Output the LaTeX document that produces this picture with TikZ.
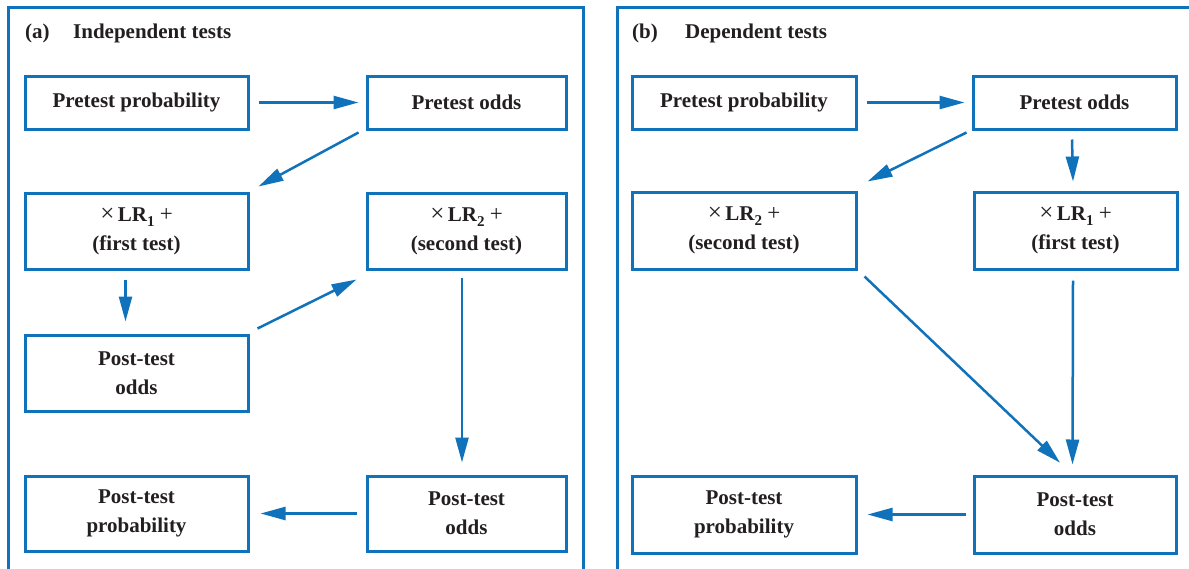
\documentclass[tikz,border=0pt]{standalone}
\usepackage{fontspec}
\setmainfont{Liberation Serif}
\usetikzlibrary{arrows.meta}
\definecolor{fblue}{RGB}{16,114,186}
\definecolor{ftext}{RGB}{35,31,32}
\tikzset{
  box/.style={draw=fblue, line width=3pt, text=ftext, align=center,
    font=\fontsize{21}{29}\selectfont\bfseries, inner sep=0pt},
  frame/.style={draw=fblue, line width=3pt},
  arr/.style={draw=fblue, line width=2.5pt, -{Triangle[length=25pt,width=13pt]}},
  ttl/.style={text=ftext, font=\fontsize{21}{25}\selectfont\bfseries, anchor=base west, inner sep=0pt},
}
\newcommand{\lrtext}[2]{{\fontsize{25}{29}\selectfont\mdseries ×}\,LR\raisebox{-5pt}{\fontsize{15}{15}\selectfont #1} {\fontsize{23}{29}\selectfont\mdseries +}\\(#2)}
\begin{document}
\begin{tikzpicture}[x=1pt,y=-1pt]
\clip (0,0) rectangle (1189,568);
\fill[white] (0,0) rectangle (1189,568);
% panel frames
\draw[frame] (8,620) -- (8,7) -- (583,7) -- (583,620);
\draw[frame] (617,620) -- (617,7) -- (1250,7);
% titles
\node[ttl] (ta) at (25,38) {(a)};
\node[ttl] (tah) at (73,38) {Independent tests};
\node[ttl] (tb) at (632,38) {(b)};
\node[ttl] (tbh) at (685,38) {Dependent tests};
% panel (a)
\node[box, minimum width=223pt, minimum height=53pt] (pp) at (136.5,102.5) {Pretest probability};
\node[box, minimum width=199pt, minimum height=53pt] (po) at (466.5,102.5) {Pretest odds};
\node[box, minimum width=223pt, minimum height=76pt] (lr1) at (136.5,231) {\lrtext{1}{first test}};
\node[box, minimum width=199pt, minimum height=76pt] (lr2) at (466.5,231) {\lrtext{2}{second test}};
\node[box, minimum width=223pt, minimum height=76pt] (pto) at (136.5,373) {Post-test\\odds};
\node[box, minimum width=223pt, minimum height=75pt] (ptp) at (136.5,513.5) {Post-test\\probability};
\node[box, minimum width=199pt, minimum height=75pt] (pto2) at (466.5,513.5) {Post-test\\odds};
\draw[arr, shorten <=9pt, shorten >=7pt] (pp.east) -- (po.west);
\draw[arr] ([shift={(-7pt,-2pt)}]po.south west) -- ([shift={(9pt,5pt)}]lr1.north east);
\draw[arr] ([shift={(-11pt,-9pt)}]lr1.south) -- ([shift={(-11pt,12pt)}]pto.north);
\draw[arr] ([shift={(8pt,5pt)}]pto.north east) -- ([shift={(-9pt,-9pt)}]lr2.south west);
\draw[arr] ([shift={(-4.5pt,-7pt)}]lr2.south) -- ([shift={(-4.5pt,12pt)}]pto2.north);
\draw[arr, shorten <=9pt, shorten >=11pt] (pto2.west) -- (ptp.east);
% panel (b)
\node[box, minimum width=224pt, minimum height=53pt] (bpp) at (744,102.5) {Pretest probability};
\node[box, minimum width=203pt, minimum height=53pt] (bpo) at (1074.5,102.5) {Pretest odds};
\node[box, minimum width=224pt, minimum height=77pt] (blr2) at (744,230.5) {\lrtext{2}{second test}};
\node[box, minimum width=203pt, minimum height=77pt] (blr1) at (1075.5,230.5) {\lrtext{1}{first test}};
\node[box, minimum width=224pt, minimum height=77pt] (bptp) at (744,514.5) {Post-test\\probability};
\node[box, minimum width=202pt, minimum height=77pt] (bpto) at (1075,514.5) {Post-test\\odds};
\draw[arr, shorten <=9pt, shorten >=7pt] (bpp.east) -- (bpo.west);
\draw[arr] ([shift={(-5pt,-2pt)}]bpo.south west) -- ([shift={(10pt,9pt)}]blr2.north east);
\draw[arr] ([shift={(-2.5pt,-9pt)}]bpo.south) -- ([shift={(-2.5pt,9pt)}]blr1.north);
\draw[arr, shorten >=4pt] ([shift={(7pt,-6pt)}]blr2.south east) -- ([shift={(-12pt,9pt)}]bpto.north);
\draw[arr] ([shift={(-2.5pt,-10pt)}]blr1.south) -- ([shift={(-2.5pt,10pt)}]bpto.north);
\draw[arr, shorten <=7pt, shorten >=10pt] (bpto.west) -- (bptp.east);
\end{tikzpicture}
\end{document}
